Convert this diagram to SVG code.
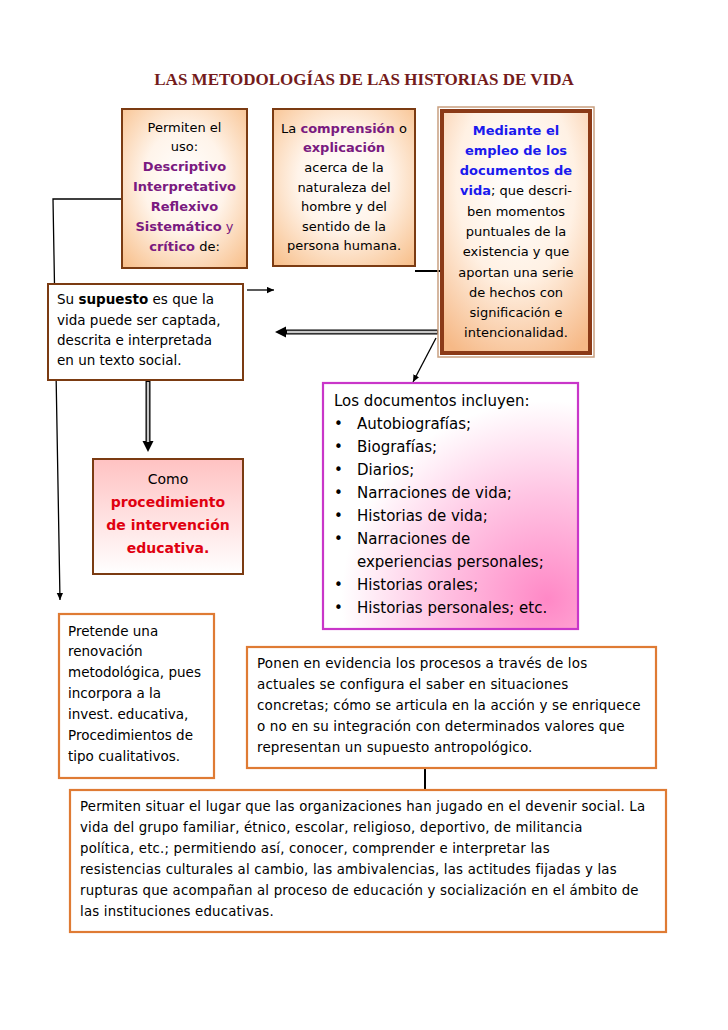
<svg xmlns="http://www.w3.org/2000/svg" width="728" height="1030" viewBox="0 0 728 1030">
<style>
.t{font-family:"DejaVu Sans","Liberation Sans",sans-serif;font-size:13px;fill:#000}
.c{text-anchor:middle}
.b{font-weight:bold}
.pu{fill:#7a1a80}
.bl{fill:#1a1aee}
.rd{fill:#e00010}
.brd{stroke:#7b3b12;stroke-width:2}
.org{fill:#fff;stroke:#df7b34;stroke-width:2.2}
.ln{stroke:#000;fill:none;stroke-width:1.3}
.dblo{stroke:#000;stroke-width:5;fill:none}
.dbli{stroke:#c8c8c8;stroke-width:2.4;fill:none}
.title{font-family:"Liberation Serif","Times New Roman",serif;font-weight:bold;font-size:17px;fill:#741b1b;text-anchor:middle}
</style>
<defs>
<radialGradient id="peach" cx="50%" cy="45%" r="72%">
<stop offset="0" stop-color="#ffffff"/>
<stop offset="0.45" stop-color="#fff4ea"/>
<stop offset="1" stop-color="#f8c08c"/>
</radialGradient>
<radialGradient id="peach3" cx="50%" cy="30%" r="80%">
<stop offset="0" stop-color="#ffffff"/>
<stop offset="0.5" stop-color="#fff1e4"/>
<stop offset="1" stop-color="#f6b987"/>
</radialGradient>
<linearGradient id="pink" x1="0" y1="0" x2="0" y2="1">
<stop offset="0" stop-color="#ffc2c2"/>
<stop offset="1" stop-color="#ffffff"/>
</linearGradient>
<radialGradient id="mag" cx="88%" cy="88%" r="95%">
<stop offset="0" stop-color="#ff88c6"/>
<stop offset="0.45" stop-color="#ffc4e3"/>
<stop offset="0.85" stop-color="#ffffff"/>
</radialGradient>
<marker id="aS" viewBox="0 0 10 10" refX="10" refY="5" markerWidth="7" markerHeight="7" markerUnits="userSpaceOnUse" orient="auto">
<path d="M0,0.5 L10,5 L0,9.5 z" fill="#000"/>
</marker>
<marker id="aB" viewBox="0 0 12 12" refX="0" refY="6" markerWidth="11" markerHeight="12" markerUnits="userSpaceOnUse" orient="auto">
<path d="M0,0 L12,6 L0,12 z" fill="#000"/>
</marker>
</defs>
<rect width="728" height="1030" fill="#fff"/>

<text class="title" x="364" y="85">LAS METODOLOGÍAS DE LAS HISTORIAS DE VIDA</text>

<g id="connectors">
<polyline class="ln" points="122,199 53,199 60,600" marker-end="url(#aS)"/>
<line class="ln" x1="247" y1="290" x2="274" y2="290" marker-end="url(#aS)"/>
<line class="dblo" x1="438" y1="332" x2="286" y2="332" marker-end="url(#aB)"/>
<line class="dbli" x1="437" y1="332" x2="287" y2="332"/>
<line class="dblo" x1="148" y1="381" x2="148" y2="441" marker-end="url(#aB)"/>
<line class="dbli" x1="148" y1="382" x2="148" y2="442"/>
<line stroke="#000" stroke-width="2" x1="415" y1="271" x2="440" y2="271"/>
<line class="ln" stroke-width="1.6" x1="436" y1="338" x2="413" y2="382" marker-end="url(#aS)"/>
<line stroke="#000" stroke-width="2" x1="425" y1="768" x2="425" y2="790"/>
</g>

<g id="n1">
<rect class="brd" x="122" y="109" width="125" height="159" fill="url(#peach)"/>
<text class="t c" x="184.5" y="132">Permiten el</text>
<text class="t c" x="184.5" y="151">uso:</text>
<text class="t c b pu" x="184.5" y="171">Descriptivo</text>
<text class="t c b pu" x="184.5" y="191">Interpretativo</text>
<text class="t c b pu" x="184.5" y="211">Reflexivo</text>
<text class="t c pu" x="184.5" y="231"><tspan class="b">Sistemático</tspan> y</text>
<text class="t c" x="184.5" y="251"><tspan class="b pu">crítico</tspan> de:</text>
</g>

<g id="n2">
<rect class="brd" x="273" y="109" width="142" height="157" fill="url(#peach)"/>
<text class="t c" x="344" y="133">La <tspan class="b pu">comprensión</tspan> o</text>
<text class="t c b pu" x="344" y="152">explicación</text>
<text class="t c" x="344" y="172">acerca de la</text>
<text class="t c" x="344" y="192">naturaleza del</text>
<text class="t c" x="344" y="211">hombre y del</text>
<text class="t c" x="344" y="231">sentido de la</text>
<text class="t c" x="344" y="250">persona humana.</text>
</g>

<g id="n3">
<rect x="438" y="107" width="156" height="250" fill="none" stroke="#c9a080" stroke-width="1.5"/>
<rect x="442" y="111" width="148" height="242" fill="url(#peach3)" stroke="#8b3a17" stroke-width="4"/>
<text class="t c b bl" x="516" y="135">Mediante el</text>
<text class="t c b bl" x="516" y="155">empleo de los</text>
<text class="t c b bl" x="516" y="175">documentos de</text>
<text class="t c" x="516" y="195"><tspan class="b bl">vida</tspan>; que descri-</text>
<text class="t c" x="516" y="216">ben momentos</text>
<text class="t c" x="516" y="236">puntuales de la</text>
<text class="t c" x="516" y="256">existencia y que</text>
<text class="t c" x="516" y="277">aportan una serie</text>
<text class="t c" x="516" y="297">de hechos con</text>
<text class="t c" x="516" y="317">significación e</text>
<text class="t c" x="516" y="337">intencionalidad.</text>
</g>

<g id="n4">
<rect class="brd" x="48" y="284" width="195" height="96" fill="#fff"/>
<g class="t" style="font-size:13.5px">
<text x="57" y="304">Su <tspan class="b">supuesto</tspan> es que la</text>
<text x="57" y="325">vida puede ser captada,</text>
<text x="57" y="345">descrita e interpretada</text>
<text x="57" y="365">en un texto social.</text>
</g>
</g>

<g id="n5">
<rect class="brd" x="93" y="459" width="150" height="115" fill="url(#pink)"/>
<text class="t c" x="168" y="484" style="font-size:14px">Como</text>
<text class="t c b rd" x="168" y="507" style="font-size:14px">procedimiento</text>
<text class="t c b rd" x="168" y="530" style="font-size:14px">de intervención</text>
<text class="t c b rd" x="168" y="553" style="font-size:14px">educativa.</text>
</g>

<g id="n6">
<rect x="323" y="383" width="255" height="246" fill="url(#mag)" stroke="#c936c9" stroke-width="2.2"/>
<g class="t" style="font-size:15px">
<text x="334" y="406">Los documentos incluyen:</text>
<text x="334" y="429">•</text><text x="357" y="429">Autobiografías;</text>
<text x="334" y="452">•</text><text x="357" y="452">Biografías;</text>
<text x="334" y="475">•</text><text x="357" y="475">Diarios;</text>
<text x="334" y="498">•</text><text x="357" y="498">Narraciones de vida;</text>
<text x="334" y="521">•</text><text x="357" y="521">Historias de vida;</text>
<text x="334" y="544">•</text><text x="357" y="544">Narraciones de</text>
<text x="357" y="567">experiencias personales;</text>
<text x="334" y="590">•</text><text x="357" y="590">Historias orales;</text>
<text x="334" y="613">•</text><text x="357" y="613">Historias personales; etc.</text>
</g>
</g>

<g id="n7">
<rect class="org" x="59" y="614" width="155" height="164"/>
<g class="t" style="font-size:13.5px">
<text x="68" y="636">Pretende una</text>
<text x="68" y="656">renovación</text>
<text x="68" y="677">metodológica, pues</text>
<text x="68" y="698">incorpora a la</text>
<text x="68" y="719">invest. educativa,</text>
<text x="68" y="740">Procedimientos de</text>
<text x="68" y="761">tipo cualitativos.</text>
</g>
</g>

<g id="n8">
<rect class="org" x="247" y="647" width="409" height="121"/>
<g class="t" style="font-size:13.5px;letter-spacing:0.15px">
<text x="257" y="668">Ponen en evidencia los procesos a través de los</text>
<text x="257" y="689">actuales se configura el saber en situaciones</text>
<text x="257" y="710">concretas; cómo se articula en la acción y se enriquece</text>
<text x="257" y="731">o no en su integración con determinados valores que</text>
<text x="257" y="752">representan un supuesto antropológico.</text>
</g>
</g>

<g id="n9">
<rect class="org" x="70" y="790" width="596" height="142"/>
<g class="t" style="font-size:13.3px;letter-spacing:0.2px">
<text x="80" y="811">Permiten situar el lugar que las organizaciones han jugado en el devenir social. La</text>
<text x="80" y="832">vida del grupo familiar, étnico, escolar, religioso, deportivo, de militancia</text>
<text x="80" y="853">política, etc.; permitiendo así, conocer, comprender e interpretar las</text>
<text x="80" y="874">resistencias culturales al cambio, las ambivalencias, las actitudes fijadas y las</text>
<text x="80" y="895">rupturas que acompañan al proceso de educación y socialización en el ámbito de</text>
<text x="80" y="916">las instituciones educativas.</text>
</g>
</g>
</svg>
